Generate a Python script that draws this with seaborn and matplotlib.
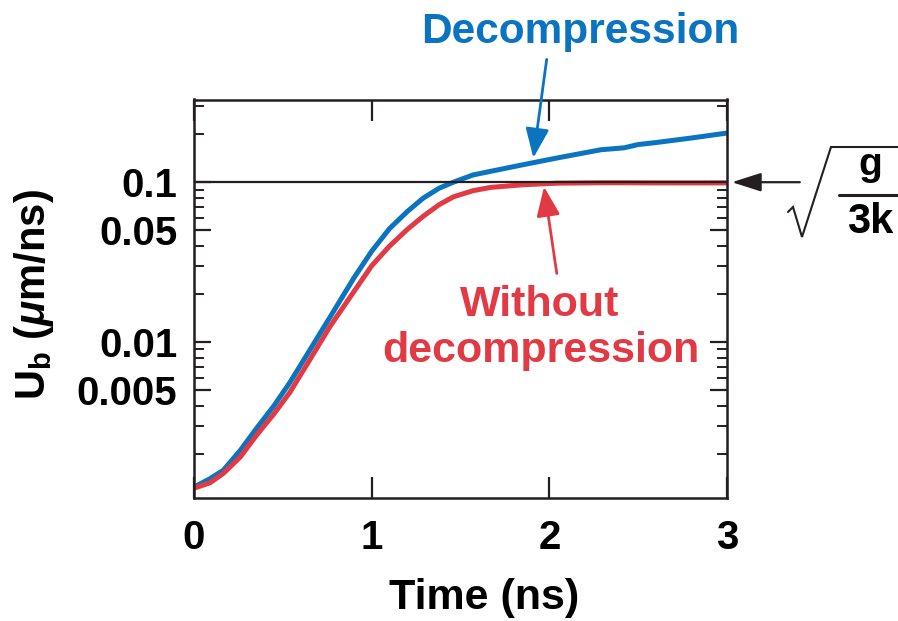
import numpy as np
import pandas as pd
import matplotlib
matplotlib.use("Agg")
import matplotlib.pyplot as plt
from matplotlib.lines import Line2D
from matplotlib.ticker import NullFormatter, FixedLocator
import seaborn as sns

# ---------------- data ----------------
time_ns = [0.0, 0.09, 0.165, 0.26, 0.35, 0.45, 0.54, 0.65, 0.765, 0.9, 1.0,
           1.1, 1.2, 1.29, 1.38, 1.46, 1.57, 1.67, 1.85, 2.04, 2.29, 2.42,
           2.5, 2.6, 2.8, 3.0]
ub_decompression = [0.00124, 0.00140, 0.00158, 0.00210, 0.00287, 0.00400,
                    0.00560, 0.00885, 0.0143, 0.0252, 0.0370, 0.0512, 0.0655,
                    0.0795, 0.0918, 0.1000, 0.1110, 0.1170, 0.1285, 0.1415,
                    0.1596, 0.1640, 0.1720, 0.1770, 0.1890, 0.2030]
ub_without = [0.00122, 0.00132, 0.00151, 0.00191, 0.00260, 0.00356, 0.00486,
              0.00770, 0.0125, 0.0207, 0.0300, 0.0398, 0.0506, 0.0612, 0.0724,
              0.0810, 0.0885, 0.0928, 0.0964, 0.0986, 0.0992, 0.0992, 0.0991,
              0.0990, 0.0990, 0.0990]
series_names = ["Decompression", "Without decompression"]
limit_value = 0.1  # sqrt(g/3k)

x_ticks = [0, 1, 2, 3]
x_tick_labels = ["0", "1", "2", "3"]
y_ticks = [0.005, 0.01, 0.05, 0.1]
y_tick_labels = ["0.005", "0.01", "0.05", "0.1"]
y_minor = [0.002, 0.003, 0.004, 0.006, 0.007, 0.008, 0.009,
           0.02, 0.03, 0.04, 0.06, 0.07, 0.08, 0.09, 0.2, 0.3]

BLUE = "#0A74C0"
RED = "#E23A45"
INK = "#231F20"

df = pd.DataFrame({
    "time": time_ns * 2,
    "ub": ub_decompression + ub_without,
    "series": [series_names[0]] * len(time_ns) + [series_names[1]] * len(time_ns),
})

# ---------------- style ----------------
sns.set_style("ticks")
plt.rcParams["font.family"] = ["Liberation Sans", "DejaVu Sans"]
plt.rcParams["font.weight"] = "bold"
plt.rcParams["text.color"] = "black"
plt.rcParams["xtick.color"] = INK
plt.rcParams["ytick.color"] = INK
plt.rcParams["xtick.labelcolor"] = "black"
plt.rcParams["ytick.labelcolor"] = "black"
plt.rcParams["mathtext.fontset"] = "custom"
plt.rcParams["mathtext.rm"] = "Liberation Sans:bold"
plt.rcParams["mathtext.bf"] = "Liberation Sans:bold"
plt.rcParams["mathtext.it"] = "Liberation Sans:italic:bold"

W, H = 898, 621
fig = plt.figure(figsize=(W / 100, H / 100), dpi=100)
ax = fig.add_axes([194 / W, 1 - 498 / H, (727 - 194) / W, (498 - 99.5) / H])


def fpx(x, y):
    return (x / W, 1 - y / H)


sns.lineplot(data=df, x="time", y="ub", hue="series",
             palette={series_names[0]: BLUE, series_names[1]: RED},
             estimator=None, linewidth=3.6, legend=False, ax=ax, zorder=2)
for ln in ax.get_lines():
    ln.set_solid_joinstyle("round")
    ln.set_solid_capstyle("round")

ax.axhline(limit_value, color=INK, lw=1.6, zorder=3)

ax.set_yscale("log")
ax.set_xlim(0, 3)
ax.set_ylim(0.00106, 0.329)

ax.set_xticks(x_ticks)
ax.set_xticklabels(x_tick_labels, fontsize=29, fontweight="bold", color="black")
ax.yaxis.set_major_locator(FixedLocator(y_ticks))
ax.set_yticklabels(y_tick_labels, fontsize=29, fontweight="bold", color="black")
ax.yaxis.set_minor_locator(FixedLocator(y_minor))
ax.yaxis.set_minor_formatter(NullFormatter())
ax.xaxis.set_minor_locator(FixedLocator([]))

ax.tick_params(axis="x", which="major", direction="in", top=True, bottom=True,
               length=15, width=1.6, color=INK, pad=15)
ax.tick_params(axis="y", which="major", direction="in", left=True, right=True,
               length=12, width=1.6, color=INK, pad=12)
ax.tick_params(axis="y", which="minor", direction="in", left=True, right=True,
               length=7, width=1.4, color=INK)
for s in ax.spines.values():
    s.set_linewidth(1.8)
    s.set_color(INK)
    s.set_visible(True)

ax.set_xlabel("")
ax.set_ylabel("")
fig.text(*fpx(484, 598), "Time (ns)", fontsize=31, fontweight="bold",
         ha="center", va="center", color="black")
fig.text(*fpx(34, 295), r"U$_{\mathbf{b}}$ ($\mu$m/ns)", fontsize=30,
         fontweight="bold", rotation=90, ha="center", va="center",
         color="black")

# ---------------- annotations ----------------
ax.text(2.172, 0.740, "Decompression", color=BLUE, fontsize=30.5,
        fontweight="bold", ha="center", va="baseline")
ax.annotate("", xy=(1.91, 0.142), xytext=(1.985, 0.586),
            arrowprops=dict(arrowstyle="-|>,head_length=0.9,head_width=0.36",
                            color=BLUE, lw=2, mutation_scale=20,
                            shrinkA=0, shrinkB=0),
            annotation_clip=False)

ax.text(1.947, 0.01453, "Without", color=RED, fontsize=31,
        fontweight="bold", ha="center", va="baseline")
ax.text(1.953, 0.0075, "decompression", color=RED, fontsize=31,
        fontweight="bold", ha="center", va="baseline")
ax.annotate("", xy=(1.97, 0.0937), xytext=(2.042, 0.0269),
            arrowprops=dict(arrowstyle="-|>,head_length=0.9,head_width=0.36",
                            color=RED, lw=2, mutation_scale=20,
                            shrinkA=0, shrinkB=0),
            annotation_clip=False)

# black arrow and sqrt(g/3k) label
ax.annotate("", xy=(3.028, limit_value), xytext=(3.41, limit_value),
            arrowprops=dict(arrowstyle="-|>,head_length=1.0,head_width=0.32",
                            color=INK, lw=1.6, mutation_scale=18,
                            shrinkA=0, shrinkB=0),
            annotation_clip=False)
rad = [fpx(788, 212), fpx(793, 207), fpx(802, 237), fpx(831, 147), fpx(898, 147)]
fig.add_artist(Line2D([p[0] for p in rad], [p[1] for p in rad],
                      transform=fig.transFigure, color=INK, lw=1.5,
                      solid_joinstyle="miter"))
fig.add_artist(Line2D([fpx(839, 0)[0], fpx(898, 0)[0]],
                      [fpx(0, 195)[1], fpx(0, 195)[1]],
                      transform=fig.transFigure, color=INK, lw=2.2))
fig.text(*fpx(870, 175), "g", fontsize=28, fontweight="bold",
         ha="center", va="baseline", color="black")
fig.text(*fpx(870, 233), "3k", fontsize=30, fontweight="bold",
         ha="center", va="baseline", color="black")

fig.savefig("out.png", dpi=100)
